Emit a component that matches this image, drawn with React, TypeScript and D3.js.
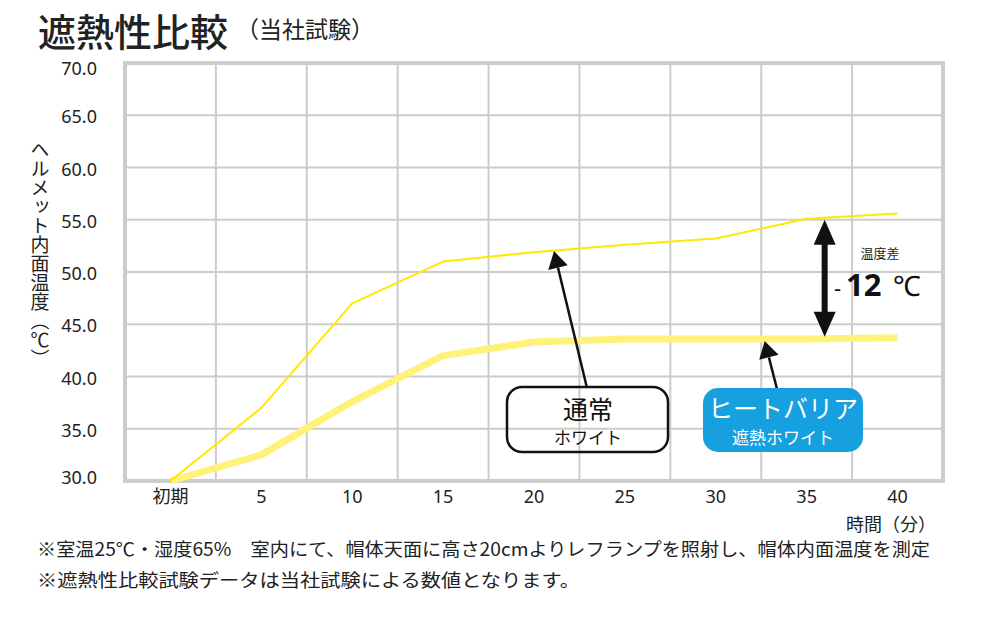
import React from "react";
import * as d3 from "d3";

// x categories (minutes)
const categories = ["初期", "5", "10", "15", "20", "25", "30", "35", "40"];
// 通常ホワイト
const normalWhite = [30, 37.0, 47.0, 51.0, 51.9, 52.6, 53.2, 55.1, 55.6];
// ヒートバリア 遮熱ホワイト
const heatBarrier = [30, 32.5, 37.6, 42.0, 43.3, 43.6, 43.6, 43.6, 43.7];
const yTicks = [30, 35, 40, 45, 50, 55, 60, 65, 70];

const JP = "'Noto Sans CJK JP', 'Noto Sans', sans-serif";
const NUM = "'Noto Sans', 'Open Sans', sans-serif";

const W = 1000;
const H = 628;
const plot = { left: 125, right: 943, top: 63, bottom: 481 };

const Arrow = ({ x1, y1, x2, y2, head = 16, half = 10, width = 2 }) => {
  // line from (x1,y1) to tip (x2,y2)
  const dx = x2 - x1;
  const dy = y2 - y1;
  const len = Math.hypot(dx, dy);
  const ux = dx / len;
  const uy = dy / len;
  const bx = x2 - ux * head;
  const by = y2 - uy * head;
  const px = -uy;
  const py = ux;
  const pts = [
    [x2, y2],
    [bx + px * half, by + py * half],
    [bx - px * half, by - py * half],
  ];
  return (
    <g>
      <line x1={x1} y1={y1} x2={bx} y2={by} stroke="#111" strokeWidth={width} />
      <polygon points={pts.map((p) => p.join(",")).join(" ")} fill="#111" />
    </g>
  );
};

export default function App() {
  const x = d3
    .scaleBand<string>()
    .domain(categories)
    .range([plot.left, plot.right]);
  const y = d3.scaleLinear().domain([30, 70]).range([plot.bottom, plot.top]);
  const cx = (c: string) => (x(c) as number) + x.bandwidth() / 2;

  const line = d3
    .line<number>()
    .x((_, i) => cx(categories[i]))
    .y((d) => y(d));

  const boundaries = categories.slice(1).map((c) => x(c) as number);

  // annotation anchors derived from the scales
  const tipNormal = { x: cx("20") + 20, y: y(52.0) };
  const tipBarrier = { x: cx("35") - 42, y: y(43.6) + 2 };
  const diffX = cx("35") + 18;
  const diffTop = y(55.0);
  const diffBottom = y(43.8);

  return (
    <svg
      width={W}
      height={H}
      viewBox={`0 0 ${W} ${H}`}
      style={{ position: "absolute", left: 0, top: 0, background: "#fff" }}
    >
      {/* title */}
      <text x={38} y={46} fontFamily={JP} fontSize={38} fontWeight={500} fill="#222">
        遮熱性比較
      </text>
      <text x={236} y={38} fontFamily={JP} fontSize={23} fill="#222">
        （当社試験）
      </text>

      {/* grid */}
      {yTicks.slice(1, -1).map((t) => (
        <line key={t} x1={plot.left} x2={plot.right} y1={y(t)} y2={y(t)} stroke="#cccccc" strokeWidth={2} />
      ))}
      {boundaries.map((b, i) => (
        <line key={i} x1={b} x2={b} y1={plot.top} y2={plot.bottom} stroke="#cccccc" strokeWidth={2} />
      ))}
      <rect
        x={plot.left}
        y={plot.top}
        width={plot.right - plot.left}
        height={plot.bottom - plot.top}
        fill="none"
        stroke="#cccccc"
        strokeWidth={4}
      />

      {/* y tick labels */}
      {yTicks.map((t) => (
        <text
          key={t}
          x={97}
          y={y(t)}
          dy={t === 70 ? 12 : t === 30 ? 3 : 8}
          textAnchor="end"
          fontFamily={NUM}
          fontSize={18}
          fill="#222"
        >
          {t.toFixed(1)}
        </text>
      ))}

      {/* x tick labels */}
      {categories.map((c) => (
        <text key={c} x={cx(c)} y={503} textAnchor="middle" fontFamily={c === "初期" ? JP : NUM} fontSize={18} fill="#222">
          {c}
        </text>
      ))}
      <text x={891} y={531} textAnchor="middle" fontFamily={JP} fontSize={18} fill="#222">
        時間（分）
      </text>

      {/* y axis title */}
      <text
        x={40}
        y={140}
        fontFamily={JP}
        fontSize={19}
        fill="#222"
        style={{ writingMode: "vertical-rl" }}
      >
        ヘルメット内面温度（℃）
      </text>

      {/* series */}
      <path d={line(heatBarrier) ?? ""} fill="none" stroke="#fff27a" strokeWidth={7} strokeLinejoin="round" />
      <path d={line(normalWhite) ?? ""} fill="none" stroke="#ffe900" strokeWidth={2} strokeLinejoin="round" />

      {/* callouts */}
      <Arrow x1={587} y1={388} x2={tipNormal.x} y2={tipNormal.y} head={17} half={10} width={2.5} />
      <Arrow x1={777} y1={389} x2={tipBarrier.x} y2={tipBarrier.y} head={17} half={10} width={2.5} />

      <rect x={507} y={387} width={161} height={65} rx={15} fill="none" stroke="#111" strokeWidth={2.5} />
      <text x={588} y={419} textAnchor="middle" fontFamily={JP} fontSize={25} fill="#111">
        通常
      </text>
      <text x={588} y={444} textAnchor="middle" fontFamily={JP} fontSize={17} fill="#111">
        ホワイト
      </text>

      <rect x={703} y={388} width={160} height={64} rx={15} fill="#16a0e0" />
      <text x={783} y={418} textAnchor="middle" fontFamily={JP} fontSize={25} fill="#fff">
        ヒートバリア
      </text>
      <text x={783} y={444} textAnchor="middle" fontFamily={JP} fontSize={17} fill="#fff">
        遮熱ホワイト
      </text>

      {/* temperature difference */}
      <line x1={diffX} x2={diffX} y1={diffTop + 20} y2={diffBottom - 20} stroke="#111" strokeWidth={6} />
      <polygon
        points={`${diffX},${diffTop} ${diffX - 11},${diffTop + 25} ${diffX + 11},${diffTop + 25}`}
        fill="#111"
      />
      <polygon
        points={`${diffX},${diffBottom} ${diffX - 11},${diffBottom - 25} ${diffX + 11},${diffBottom - 25}`}
        fill="#111"
      />
      <text x={880} y={258} textAnchor="middle" fontFamily={JP} fontSize={13} fill="#222">
        温度差
      </text>
      <text x={834} y={296} fontFamily={NUM} fontSize={22} fill="#111">
        -
      </text>
      <text x={846} y={296} fontFamily={NUM} fontSize={31} fontWeight={700} fill="#111">
        12
      </text>
      <text x={893} y={296} fontFamily={NUM} fontSize={28} fill="#111">
        ℃
      </text>

      {/* notes */}
      <text x={37} y={556} fontFamily={JP} fontSize={18} fill="#222" textLength={893} lengthAdjust="spacingAndGlyphs">
        ※室温25℃・湿度65%　室内にて、帽体天面に高さ20cmよりレフランプを照射し、帽体内面温度を測定
      </text>
      <text x={37} y={587} fontFamily={JP} fontSize={18} fill="#222" textLength={543} lengthAdjust="spacingAndGlyphs">
        ※遮熱性比較試験データは当社試験による数値となります。
      </text>
    </svg>
  );
}
